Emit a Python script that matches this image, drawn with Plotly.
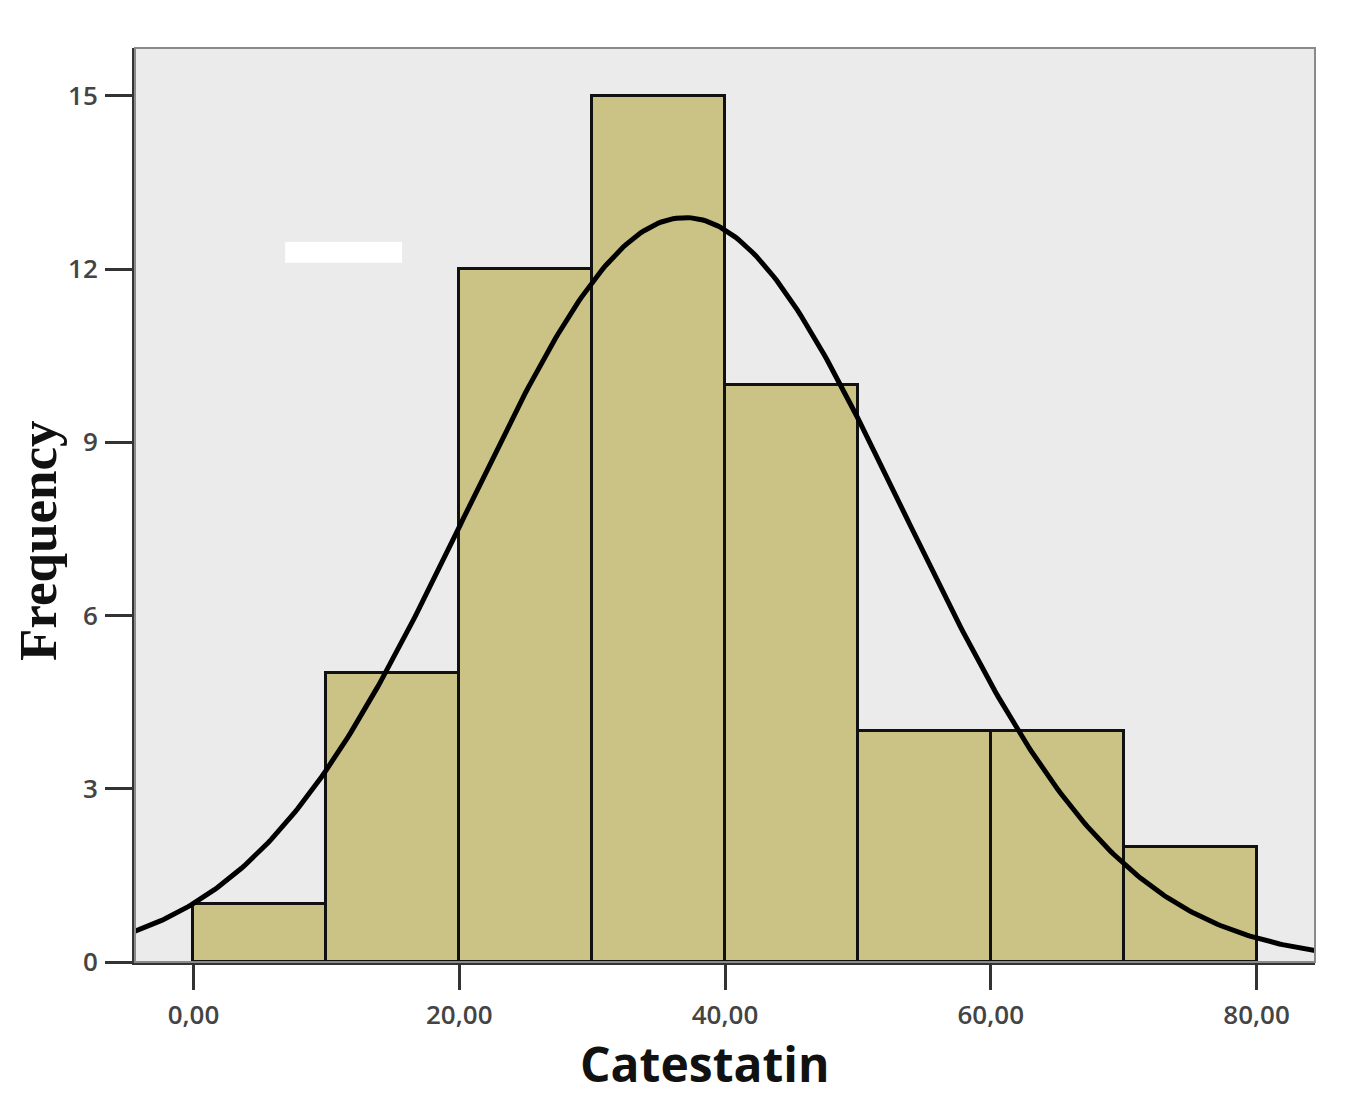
import numpy as np
import plotly.graph_objects as go

# Data
bin_left = [0, 10, 20, 30, 40, 50, 60, 70]
bin_width = 10
counts = [1, 5, 12, 15, 10, 4, 4, 2]
# Normal curve parameters (SPSS-style fitted normal)
curve_mean = 37.0
curve_sd = 16.4
n_total = sum(counts)

x_ticks = [0, 20, 40, 60, 80]
x_tick_labels = ["0,00", "20,00", "40,00", "60,00", "80,00"]
y_ticks = [0, 3, 6, 9, 12, 15]
y_tick_labels = ["0", "3", "6", "9", "12", "15"]

x_range = [-4.4, 84.4]
y_range = [0, 15.83]

centers = [b + bin_width / 2 for b in bin_left]
xc = np.linspace(x_range[0], x_range[1], 400)
yc = n_total * bin_width / (curve_sd * np.sqrt(2 * np.pi)) * np.exp(-0.5 * ((xc - curve_mean) / curve_sd) ** 2)

fig = go.Figure()
fig.add_trace(go.Bar(
    x=centers, y=counts, width=bin_width,
    marker=dict(color="#CBC385", line=dict(color="#111111", width=3)),
    showlegend=False, hoverinfo="skip",
))
fig.add_trace(go.Scatter(
    x=xc, y=yc, mode="lines", line=dict(color="#000000", width=5),
    showlegend=False, hoverinfo="skip",
))

# frame (top/right gray border)
fig.add_shape(type="rect", xref="paper", yref="paper", x0=0, y0=0, x1=1, y1=1,
              line=dict(color="#8a8a8a", width=2), layer="above")
# white redaction rectangle
fig.add_shape(type="rect", xref="x", yref="y", x0=6.9, x1=15.7, y0=12.11, y1=12.47,
              line=dict(width=0), fillcolor="#ffffff", layer="above")

tick_font = dict(family="Open Sans", size=26, color="#444444", weight=600)

fig.update_layout(
    width=1346, height=1106,
    margin=dict(l=135, r=31, t=48, b=144),
    paper_bgcolor="#ffffff", plot_bgcolor="#EBEBEB",
    bargap=0,
    xaxis=dict(range=x_range, tickvals=x_ticks, ticktext=x_tick_labels,
               ticks="outside", ticklen=25, tickwidth=3, tickcolor="#333333",
               showline=True, linecolor="#333333", linewidth=3,
               showgrid=False, zeroline=False, tickfont=tick_font,
               ticklabelstandoff=3),
    yaxis=dict(range=y_range, tickvals=y_ticks, ticktext=y_tick_labels,
               ticks="outside", ticklen=27, tickwidth=3, tickcolor="#333333",
               showline=True, linecolor="#333333", linewidth=3,
               showgrid=False, zeroline=False, tickfont=tick_font,
               ticklabelstandoff=2),
    annotations=[
        dict(text="<b>Catestatin</b>", xref="paper", yref="paper",
             x=(705 - 135) / 1180, y=-(1063 - 962) / 914,
             xanchor="center", yanchor="middle", showarrow=False,
             font=dict(family="Open Sans", size=48, color="#111111")),
        dict(text="<b>Frequency</b>", xref="paper", yref="paper",
             x=-(135 - 38) / 1180, y=(962 - 541) / 914, textangle=-90,
             xanchor="center", yanchor="middle", showarrow=False,
             font=dict(family="Liberation Serif", size=53, color="#111111")),
    ],
)

fig.write_html("out.html")
